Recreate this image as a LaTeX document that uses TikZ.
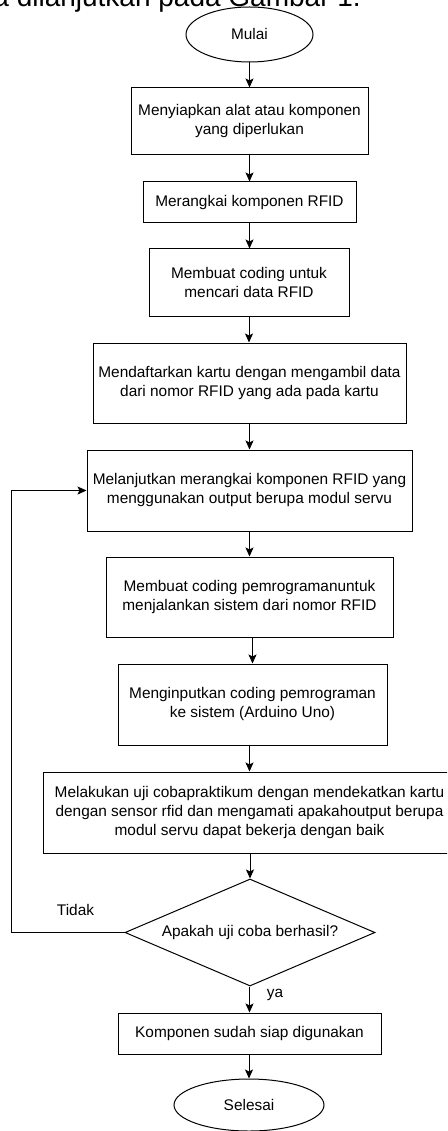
\documentclass[tikz,border=0pt]{standalone}
\usepackage{fontspec}
\setmainfont{Liberation Sans}
\usetikzlibrary{shapes.geometric,arrows.meta}
\begin{document}
\begin{tikzpicture}[x=1pt,y=-1pt,
  every node/.style={font=\fontsize{15.4}{19}\selectfont},
  proc/.style={draw, line width=1pt, rectangle, align=center, inner sep=0pt},
  term/.style={draw, line width=1pt, ellipse, inner sep=0pt},
  dec/.style={draw, line width=1pt, diamond, aspect=2.34, inner sep=0pt},
  arr/.style={line width=1pt, -{Stealth[length=9pt,width=8pt,inset=2pt]}},
  lbl/.style={inner sep=0pt}]
\useasboundingbox (0,0) rectangle (447,1131);
\clip (0,0) rectangle (447,1131);
\node[lbl, anchor=base east, font=\fontsize{28}{30}\selectfont] (top) at (361,6.5) {a dilanjutkan pada Gambar 1.};
\node[term, minimum width=127, minimum height=55] (mulai) at (249.5,34.5) {Mulai};
\node[proc, minimum width=237, minimum height=67] (b1) at (249.5,121.5) {Menyiapkan alat atau komponen\\yang diperlukan};
\node[proc, minimum width=213, minimum height=41] (b2) at (249.5,202.5) {Merangkai komponen RFID};
\node[proc, minimum width=200, minimum height=67] (b3) at (249,282.5) {Membuat coding untuk\\mencari data RFID};
\node[proc, minimum width=313, minimum height=80] (b4) at (249.5,383) {Mendaftarkan kartu dengan mengambil data\\dari nomor RFID yang ada pada kartu};
\node[proc, minimum width=325, minimum height=81] (b5) at (249.5,490.5) {Melanjutkan merangkai komponen RFID yang\\menggunakan output berupa modul servu};
\node[proc, minimum width=287, minimum height=80] (b6) at (249.5,597) {Membuat coding pemrogramanuntuk\\menjalankan sistem dari nomor RFID};
\node[proc, minimum width=269, minimum height=81] (b7) at (252.5,704.5) {Menginputkan coding pemrograman\\ke sistem (Arduino Uno)};
\node[proc, minimum width=413, minimum height=81] (b8) at (249.5,812.5) {Melakukan uji cobapraktikum dengan mendekatkan kartu\\dengan sensor rfid dan mengamati apakahoutput berupa\\modul servu dapat bekerja dengan baik};
\node[dec, minimum width=250, minimum height=107] (d) at (250,932.5) {Apakah uji coba berhasil?};
\node[proc, minimum width=263, minimum height=41] (b9) at (249.5,1033.5) {Komponen sudah siap digunakan};
\node[term, minimum width=150, minimum height=52] (selesai) at (249,1105) {Selesai};
\node[lbl] (tidak) at (75.5,910) {Tidak};
\node[lbl] (ya) at (275,995) {ya};
\draw[arr] (mulai) -- (b1);
\draw[arr] (b1) -- (b2);
\draw[arr] (b2.south) -- (b3.north -| b2.south);
\draw[arr] (b3.south) -- (b4.north -| b3.south);
\draw[arr] (b4) -- (b5);
\draw[arr] (b5) -- (b6);
\draw[arr] (b6.south -| b7.north) -- (b7.north);
\draw[arr] (b7.south -| b8.north) -- (b8.north);
\draw[arr] (b8.south -| d.north) -- (d.north);
\draw[arr] (d.south -| b9.north) -- (b9.north);
\draw[arr] (b9.south -| selesai.north) -- (selesai.north);
\draw[arr] (d.west) -- ++(-113,0) |- (b5.west);
\end{tikzpicture}
\end{document}
